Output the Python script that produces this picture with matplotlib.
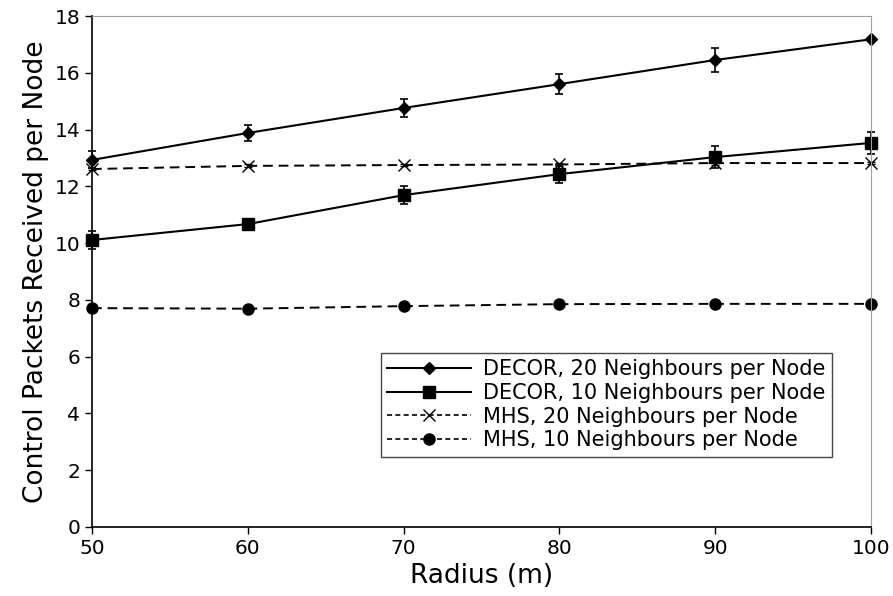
import matplotlib
matplotlib.use("Agg")
import matplotlib.pyplot as plt
from matplotlib.lines import Line2D

radius = [50, 60, 70, 80, 90, 100]
decor20 = [12.93, 13.88, 14.76, 15.60, 16.45, 17.18]
decor20_err = [0.30, 0.28, 0.33, 0.35, 0.42, 0.0]
decor10 = [10.11, 10.67, 11.69, 12.43, 13.03, 13.53]
decor10_err = [0.30, 0.15, 0.32, 0.32, 0.38, 0.40]
mhs20 = [12.61, 12.72, 12.75, 12.77, 12.82, 12.82]
mhs20_err = [0.05, 0.05, 0.05, 0.05, 0.08, 0.05]
mhs10 = [7.71, 7.69, 7.78, 7.85, 7.86, 7.86]
mhs10_err = [0.05, 0.05, 0.05, 0.05, 0.05, 0.05]

labels = ["DECOR, 20 Neighbours per Node", "DECOR, 10 Neighbours per Node",
          "MHS, 20 Neighbours per Node", "MHS, 10 Neighbours per Node"]

fig = plt.figure(figsize=(8.93, 5.96), dpi=100)
ax = fig.add_axes([92/893, 69/596, (871-92)/893, (527-16)/596])

common = dict(color="black", ecolor="black", capsize=3, elinewidth=1.2, capthick=1.2, clip_on=False)
dash = (0, (5, 3))
ax.errorbar(radius, decor20, yerr=decor20_err, fmt="-D", ms=6, lw=1.5, **common)
ax.errorbar(radius, decor10, yerr=decor10_err, fmt="-s", ms=8, lw=1.5, **common)
ax.errorbar(radius, mhs20, yerr=mhs20_err, fmt="x", ms=9, mew=1.0, **common)
ax.errorbar(radius, mhs10, yerr=mhs10_err, fmt="o", ms=8, **common)
ax.plot(radius, mhs20, color="black", lw=1.4, linestyle=dash, clip_on=False)
ax.plot(radius, mhs10, color="black", lw=1.4, linestyle=dash, clip_on=False)

ax.set_xlim(50, 100)
ax.set_ylim(0, 18)
ax.set_xticks(radius)
ax.set_yticks(range(0, 19, 2))
ax.tick_params(labelsize=14.5, direction="out", length=5, width=1)
ax.set_xlabel("Radius (m)", fontsize=19)
ax.set_ylabel("Control Packets Received per Node", fontsize=19)
for s in ["top", "right"]:
    ax.spines[s].set_color("#a0a0a0")
for s in ["left", "bottom"]:
    ax.spines[s].set_linewidth(1.2)

handles = [
    Line2D([], [], color="black", lw=1.5, marker="D", ms=6),
    Line2D([], [], color="black", lw=1.5, marker="s", ms=8),
    Line2D([], [], color="black", lw=1.2, linestyle=(0, (3, 2)), marker="x", ms=9, mew=1.0),
    Line2D([], [], color="black", lw=1.2, linestyle=(0, (3, 2)), marker="o", ms=8),
]
leg = ax.legend(handles, labels, fontsize=15, loc="upper left",
                bbox_to_anchor=((381-92)/779, (527-353)/511), handlelength=4.0,
                fancybox=False, framealpha=1, borderpad=0.3, labelspacing=0.18,
                handletextpad=0.6, borderaxespad=0)
leg.get_frame().set_edgecolor("#444444")
leg.get_frame().set_linewidth(1.0)

fig.savefig("out.png", dpi=100)
